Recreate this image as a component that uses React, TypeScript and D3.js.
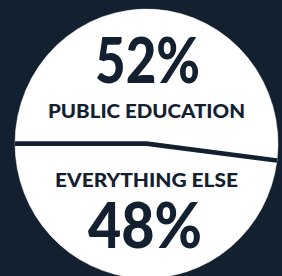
import * as d3 from 'd3';

const categories = ['PUBLIC EDUCATION', 'EVERYTHING ELSE'];
const shares = [52, 48];

const W = 282;
const H = 276;
const navy = '#13202f';

export default function App() {
  const cx = 146.5;
  const cy = 143.6;
  const r = 131.5;
  const ky = 1.023; // picture is a touch taller than wide

  const pie = d3.pie<number>()
    .sort(null)
    .startAngle(-Math.PI / 2)
    .endAngle((3 * Math.PI) / 2);
  const slices = pie(shares);

  const arc = d3.arc<d3.PieArcDatum<number>>().innerRadius(0).outerRadius(r);

  // divider: from the edge at each slice start, through the centre
  const pt = (a: number): [number, number] => [Math.sin(a) * r, -Math.cos(a) * r];
  const divider = d3.line()([pt(slices[0].startAngle), [0, 0], pt(slices[1].startAngle)]);

  const bigFont = 62;
  const labelFont = 18.5;

  return (
    <svg width={W} height={H} style={{ position: 'absolute', left: 0, top: 0 }}>
      <rect width={W} height={H} fill={navy} />
      <g transform={`translate(${cx},${cy}) scale(1,${ky})`}>
        {slices.map((s, i) => (
          <path key={i} d={arc(s) || ''} fill="#ffffff" stroke="#ffffff" strokeWidth={0.5} />
        ))}
        <path
          d={divider || ''}
          fill="none"
          stroke={navy}
          strokeWidth={4.6}
          strokeLinejoin="miter"
          vectorEffect="non-scaling-stroke"
        />
      </g>
      <g fill={navy} fontFamily="Lato, 'Open Sans', sans-serif" textAnchor="middle">
        <text x={147.5} y={83} fontSize={bigFont} fontWeight={900} textLength={105} lengthAdjust="spacingAndGlyphs">
          {shares[0]}%
        </text>
        <text x={146.5} y={118} fontSize={labelFont} fontWeight={900} textLength={197} lengthAdjust="spacingAndGlyphs">
          {categories[0]}
        </text>
        <text x={146.5} y={187} fontSize={labelFont} fontWeight={900} textLength={183} lengthAdjust="spacingAndGlyphs">
          {categories[1]}
        </text>
        <text x={145} y={248} fontSize={bigFont} fontWeight={900} textLength={114} lengthAdjust="spacingAndGlyphs">
          {shares[1]}%
        </text>
      </g>
    </svg>
  );
}
